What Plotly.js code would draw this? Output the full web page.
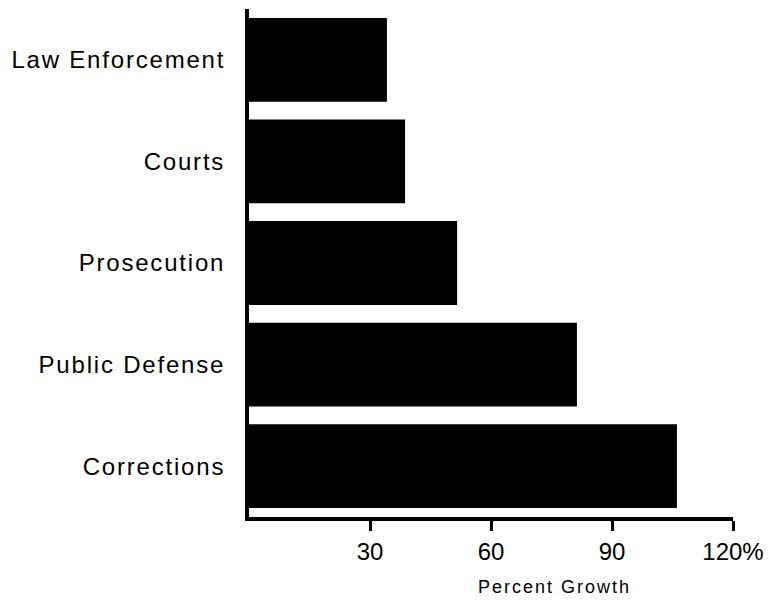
<!DOCTYPE html>
<html>
<head>
<meta charset="utf-8">
<script src="https://cdn.plot.ly/plotly-3.0.1.min.js"></script>
<style>
html, body { margin: 0; padding: 0; background: #fff; }
#chart { width: 769px; height: 602px; }
.ytick text { letter-spacing: 1.8px; }
.annotation-text { letter-spacing: 2px; }
</style>
</head>
<body>
<div id="chart"></div>
<script>
const categories = ["Law Enforcement", "Courts", "Prosecution", "Public Defense", "Corrections"];
const growth = [34.2, 38.7, 51.6, 81.3, 106.1];
const tickValues = [30, 60, 90, 120];
const tickLabels = ["30", "60", "90", "120%"];
const xAxisTitle = "Percent Growth";

const trace = {
  type: "bar",
  orientation: "h",
  y: categories,
  x: growth,
  marker: { color: "#000000", line: { width: 0 } },
  hoverinfo: "none"
};

const layout = {
  width: 769,
  height: 602,
  margin: { l: 249, r: 36, t: 9, b: 85 },
  paper_bgcolor: "#ffffff",
  plot_bgcolor: "#ffffff",
  showlegend: false,
  bargap: 0.175,
  font: { family: "Liberation Sans, Arial, Helvetica, sans-serif", color: "#000" },
  xaxis: {
    range: [0, 120],
    tickvals: tickValues,
    ticktext: tickLabels,
    showgrid: false,
    zeroline: false,
    showline: true,
    linecolor: "#000",
    linewidth: 4,
    ticks: "outside",
    ticklen: 10,
    tickwidth: 3,
    tickcolor: "#000",
    tickfont: { size: 24, color: "#000" },
    fixedrange: true
  },
  yaxis: {
    type: "category",
    autorange: "reversed",
    showgrid: false,
    zeroline: false,
    showline: true,
    linecolor: "#000",
    linewidth: 4,
    ticks: "",
    ticklabelstandoff: 15,
    tickfont: { size: 24, color: "#000" },
    fixedrange: true
  },
  annotations: [{
    text: xAxisTitle,
    xref: "paper", yref: "paper",
    x: 0.632, y: 0,
    xanchor: "center", yanchor: "middle",
    yshift: -70,
    showarrow: false,
    font: { size: 18, color: "#000" }
  }]
};

Plotly.newPlot("chart", [trace], layout, { displayModeBar: false, staticPlot: true });
</script>
</body>
</html>
